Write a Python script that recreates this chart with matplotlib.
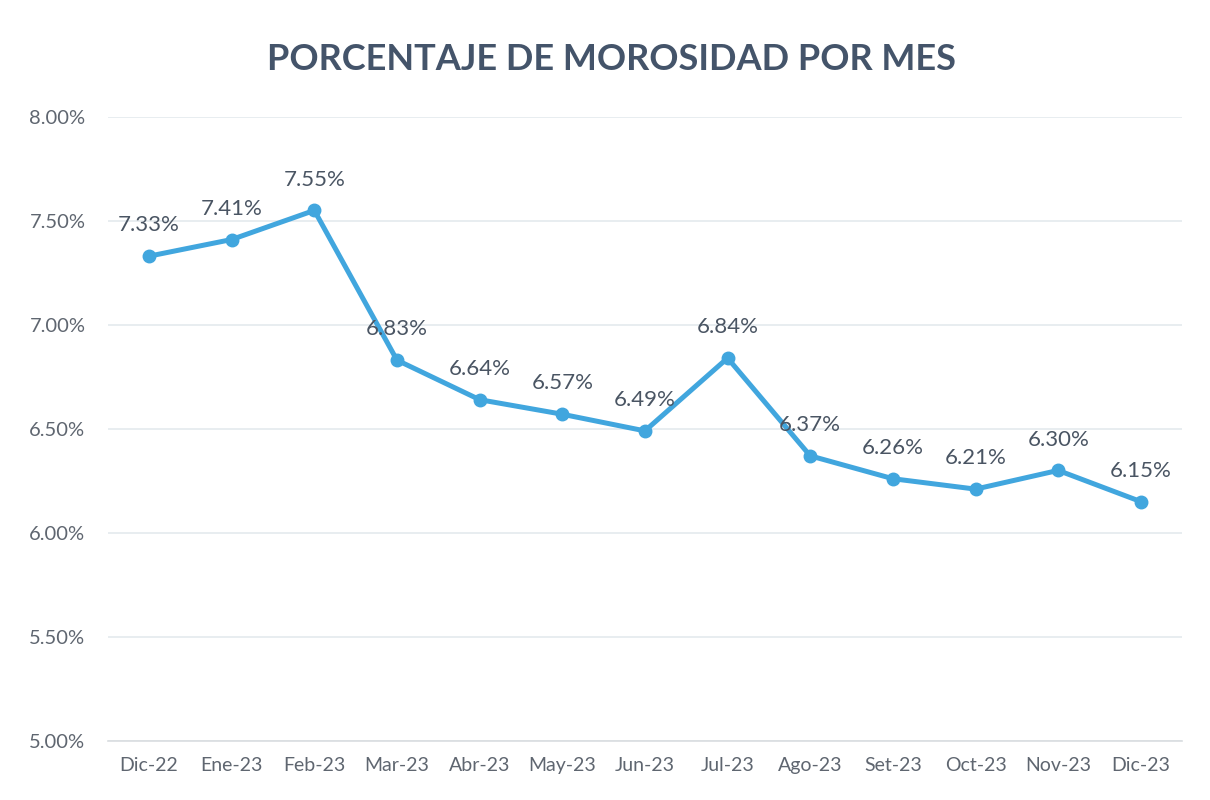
import numpy as np
import matplotlib.pyplot as plt
from matplotlib.ticker import FuncFormatter

months = ['Dic-22', 'Ene-23', 'Feb-23', 'Mar-23', 'Abr-23', 'May-23', 'Jun-23',
          'Jul-23', 'Ago-23', 'Set-23', 'Oct-23', 'Nov-23', 'Dic-23']
morosidad = [7.33, 7.41, 7.55, 6.83, 6.64, 6.57, 6.49, 6.84, 6.37, 6.26, 6.21, 6.30, 6.15]
yticks = [5.0, 5.5, 6.0, 6.5, 7.0, 7.5, 8.0]

plt.rcParams['font.family'] = ['Lato', 'DejaVu Sans']

line_color = '#41a6de'
text_color = '#4a5563'
tick_color = '#5f6670'

fig = plt.figure(figsize=(12.1, 8), dpi=100)
ax = fig.add_axes([0.089, 0.074, 0.888, 0.78])

x = np.arange(len(months))
ax.plot(x, morosidad, color=line_color, linewidth=3.6, marker='o', markersize=9,
        solid_capstyle='round', zorder=3)

# etiquetas de datos sobre cada punto
for xi, v in zip(x, morosidad):
    ax.annotate(f'{v:.2f}%', (xi, v), xytext=(0, 15), textcoords='offset points',
                ha='center', va='bottom', fontsize=16, color=text_color, zorder=4)

ax.set_xlim(-0.5, len(months) - 0.5)
ax.set_ylim(5.0, 8.0)
ax.set_yticks(yticks)
ax.yaxis.set_major_formatter(FuncFormatter(lambda v, p: f'{v:.2f}%'))
ax.set_xticks(x)
ax.set_xticklabels(months)

ax.grid(axis='y', color='#e4eaee', linewidth=1.2, zorder=0)
for s in ['top', 'right', 'left']:
    ax.spines[s].set_visible(False)
ax.spines['bottom'].set_color('#d9dde0')
ax.spines['bottom'].set_linewidth(1.2)
ax.tick_params(axis='both', length=0, labelsize=14, colors=tick_color)
ax.tick_params(axis='y', labelsize=14.5, pad=16)
ax.tick_params(axis='x', pad=12)

fig.text(0.505, 0.925, 'PORCENTAJE DE MOROSIDAD POR MES', ha='center', va='center',
         fontsize=26, fontweight='bold', color='#44546a')

plt.savefig('out.png', dpi=100)
